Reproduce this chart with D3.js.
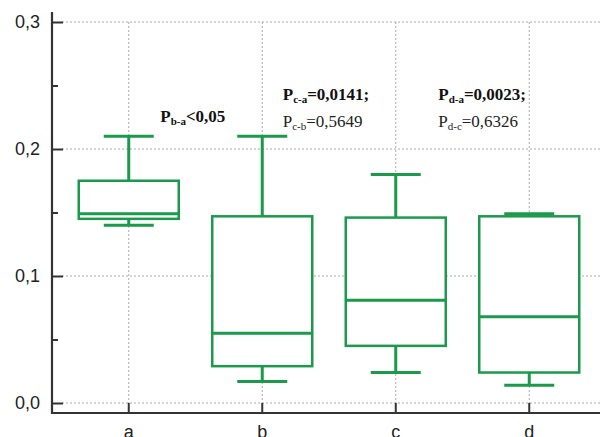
<!DOCTYPE html>
<html>
<head>
<meta charset="utf-8">
<script src="https://cdn.jsdelivr.net/npm/d3@7"></script>
<style>
  body { margin: 0; background: #fff; }
  svg { display: block; }
</style>
</head>
<body>
<div id="chart"></div>
<script>
// ── Data ──
const groups   = ['a', 'b', 'c', 'd'];
const whiskLo  = [0.140, 0.017, 0.024, 0.014];
const q1       = [0.145, 0.029, 0.045, 0.024];
const medians  = [0.149, 0.055, 0.081, 0.068];
const q3       = [0.175, 0.147, 0.146, 0.147];
const whiskHi  = [0.210, 0.210, 0.180, 0.149];
const yTicks   = [0, 0.1, 0.2, 0.3];
const yMinor   = [0.05, 0.15, 0.25];

// annotations: [main subscript, bold rest, second subscript, second rest]
const notes = [
  { group: 'b', sub1: 'b-a', rest1: '<0,05',   sub2: null,  rest2: null },
  { group: 'c', sub1: 'c-a', rest1: '=0,0141;', sub2: 'c-b', rest2: '=0,5649' },
  { group: 'd', sub1: 'd-a', rest1: '=0,0023;', sub2: 'd-c', rest2: '=0,6326' }
];

const green = '#1a9a4a';
const axisCol = '#333';
const W = 600, H = 437;
const axisX = 52, axisY = 413;
const plot = { left: 62, right: 596, top: 22, bottom: 403 };

const svg = d3.select('#chart').append('svg')
  .attr('width', W).attr('height', H);

const x = d3.scaleBand().domain(groups).range([plot.left, plot.right]);
const y = d3.scaleLinear().domain([0, 0.3]).range([plot.bottom, plot.top]);
const fmt = d => d3.format('.1f')(d).replace('.', ',');

// Grid
svg.append('g').selectAll('line').data(yTicks).enter().append('line')
  .attr('x1', plot.left).attr('x2', W)
  .attr('y1', d => y(d)).attr('y2', d => y(d))
  .attr('stroke', '#aaa').attr('stroke-width', 1).attr('stroke-dasharray', '2,2');
svg.append('g').selectAll('line').data(groups).enter().append('line')
  .attr('x1', d => x(d) + x.bandwidth() / 2).attr('x2', d => x(d) + x.bandwidth() / 2)
  .attr('y1', y(0.3)).attr('y2', y(0))
  .attr('stroke', '#aaa').attr('stroke-width', 1).attr('stroke-dasharray', '2,2');

// Axes
const yAxis = svg.append('g').attr('transform', `translate(${axisX},0)`)
  .call(d3.axisLeft(y).tickValues(yTicks).tickSize(-11).tickSizeOuter(0)
    .tickPadding(12).tickFormat(fmt));
svg.append('g').attr('transform', `translate(${axisX},0)`)
  .call(d3.axisLeft(y).tickValues(yMinor).tickSize(-6).tickSizeOuter(0).tickFormat(''))
  .select('.domain').remove();
const xAxis = svg.append('g').attr('transform', `translate(0,${axisY})`)
  .call(d3.axisBottom(x).tickSize(-10).tickSizeOuter(0).tickPadding(12));
yAxis.select('.domain').remove();
xAxis.select('.domain').remove();

svg.selectAll('.tick line').attr('stroke', axisCol).attr('stroke-width', 2);
svg.selectAll('.tick text')
  .attr('font-family', '"Liberation Sans", Arial, sans-serif')
  .attr('font-size', 18).attr('fill', '#222');

svg.append('path')
  .attr('d', `M${axisX},12V${axisY}H${W}`)
  .attr('fill', 'none').attr('stroke', axisCol).attr('stroke-width', 2.2);

// Boxes
const boxW = 100, capW = 50;
const g = svg.append('g');
groups.forEach((k, i) => {
  const cx = x(k) + x.bandwidth() / 2;
  g.append('line').attr('x1', cx).attr('x2', cx)
    .attr('y1', y(whiskHi[i])).attr('y2', y(q3[i]))
    .attr('stroke', green).attr('stroke-width', 3);
  g.append('line').attr('x1', cx).attr('x2', cx)
    .attr('y1', y(q1[i])).attr('y2', y(whiskLo[i]))
    .attr('stroke', green).attr('stroke-width', 3);
  g.append('rect')
    .attr('x', cx - boxW / 2).attr('width', boxW)
    .attr('y', y(q3[i])).attr('height', y(q1[i]) - y(q3[i]))
    .attr('fill', '#fff').attr('stroke', green).attr('stroke-width', 2.5);
  [whiskHi[i], whiskLo[i]].forEach(v => {
    g.append('line').attr('x1', cx - capW / 2).attr('x2', cx + capW / 2)
      .attr('y1', y(v)).attr('y2', y(v))
      .attr('stroke', green).attr('stroke-width', 3);
  });
  g.append('line').attr('x1', cx - boxW / 2).attr('x2', cx + boxW / 2)
    .attr('y1', y(medians[i])).attr('y2', y(medians[i]))
    .attr('stroke', green).attr('stroke-width', 3);
});

// Annotations
const noteOffset = { b: [-102, 122], c: [-113, 100], d: [-91, 100] };
notes.forEach(n => {
  const cx = x(n.group) + x.bandwidth() / 2;
  const [dx, by] = noteOffset[n.group];
  const t = svg.append('text')
    .attr('x', cx + dx).attr('y', by)
    .attr('font-family', '"Liberation Serif", "Times New Roman", serif')
    .attr('font-size', 17).attr('font-weight', 'bold').attr('fill', '#111');
  t.append('tspan').text('P');
  t.append('tspan').attr('font-size', 11).attr('dy', 3).text(n.sub1);
  t.append('tspan').attr('dy', -3).text(n.rest1);
  if (n.sub2) {
    const t2 = svg.append('text')
      .attr('x', cx + dx).attr('y', by + 27)
      .attr('font-family', '"Liberation Serif", "Times New Roman", serif')
      .attr('font-size', 17).attr('fill', '#222');
    t2.append('tspan').text('P');
    t2.append('tspan').attr('font-size', 11).attr('dy', 3).text(n.sub2);
    t2.append('tspan').attr('dy', -3).text(n.rest2);
  }
});
</script>
</body>
</html>
